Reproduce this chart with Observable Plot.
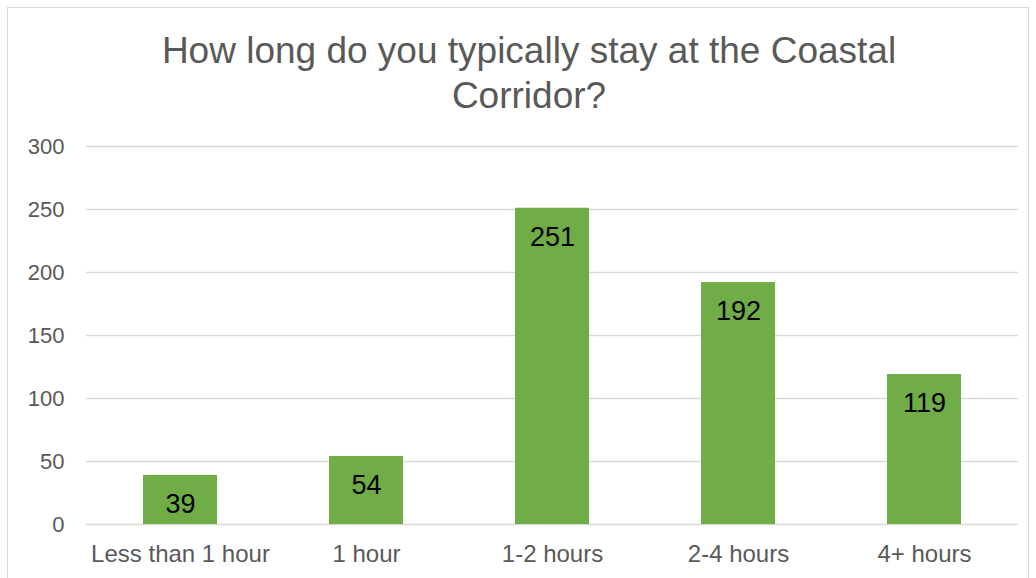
<!DOCTYPE html>
<html>
<head>
<meta charset="utf-8">
<script src="https://cdn.jsdelivr.net/npm/d3@7"></script>
<script src="https://cdn.jsdelivr.net/npm/@observablehq/plot@0.6"></script>
<style>
  html, body { margin: 0; padding: 0; background: #fff; }
  #wrap { position: relative; width: 1036px; height: 578px; overflow: hidden; font-family: "Liberation Sans", Arial, sans-serif; }
  #frame { position: absolute; left: 7px; top: 7px; width: 1022px; height: 600px; border: 1px solid #d9d9d9; box-sizing: border-box; }
  #title { position: absolute; left: 7px; width: 1044px; top: 28px; text-align: center; color: #595959; font-size: 37px; line-height: 45px; }
  #chart { position: absolute; left: 0; top: 0; }
</style>
</head>
<body>
<div id="wrap">
  <div id="frame"></div>
  <div id="chart"></div>
  <div id="title">How long do you typically stay at the Coastal<br>Corridor?</div>
</div>
<script>
const categories = ["Less than 1 hour", "1 hour", "1-2 hours", "2-4 hours", "4+ hours"];
const values = [39, 54, 251, 192, 119];
const yTicks = [0, 50, 100, 150, 200, 250, 300];

const data = categories.map((c, i) => ({category: c, value: values[i]}));

const chart = Plot.plot({
  width: 1036,
  height: 578,
  marginTop: 146,
  marginBottom: 54,
  marginLeft: 86,
  marginRight: 18,
  style: {fontFamily: "'Liberation Sans', Arial, sans-serif", background: "transparent"},
  x: {domain: categories, paddingInner: 0.6, paddingOuter: 0.3, label: null},
  y: {domain: [0, 300], label: null},
  marks: [
    Plot.ruleY(yTicks, {stroke: "#d9d9d9", strokeWidth: 1.3}),
    Plot.barY(data, {x: "category", y: "value", fill: "#70ad47"}),
    Plot.text(data, {x: "category", y: "value", text: d => String(d.value), dy: 29, fill: "#000", fontSize: 27}),
    Plot.axisY(yTicks, {tickSize: 0, tickPadding: 22, fontSize: 22, color: "#595959", label: null}),
    Plot.axisX({tickSize: 0, tickPadding: 20, fontSize: 24, color: "#595959", label: null})
  ]
});
document.getElementById("chart").appendChild(chart);
</script>
</body>
</html>
